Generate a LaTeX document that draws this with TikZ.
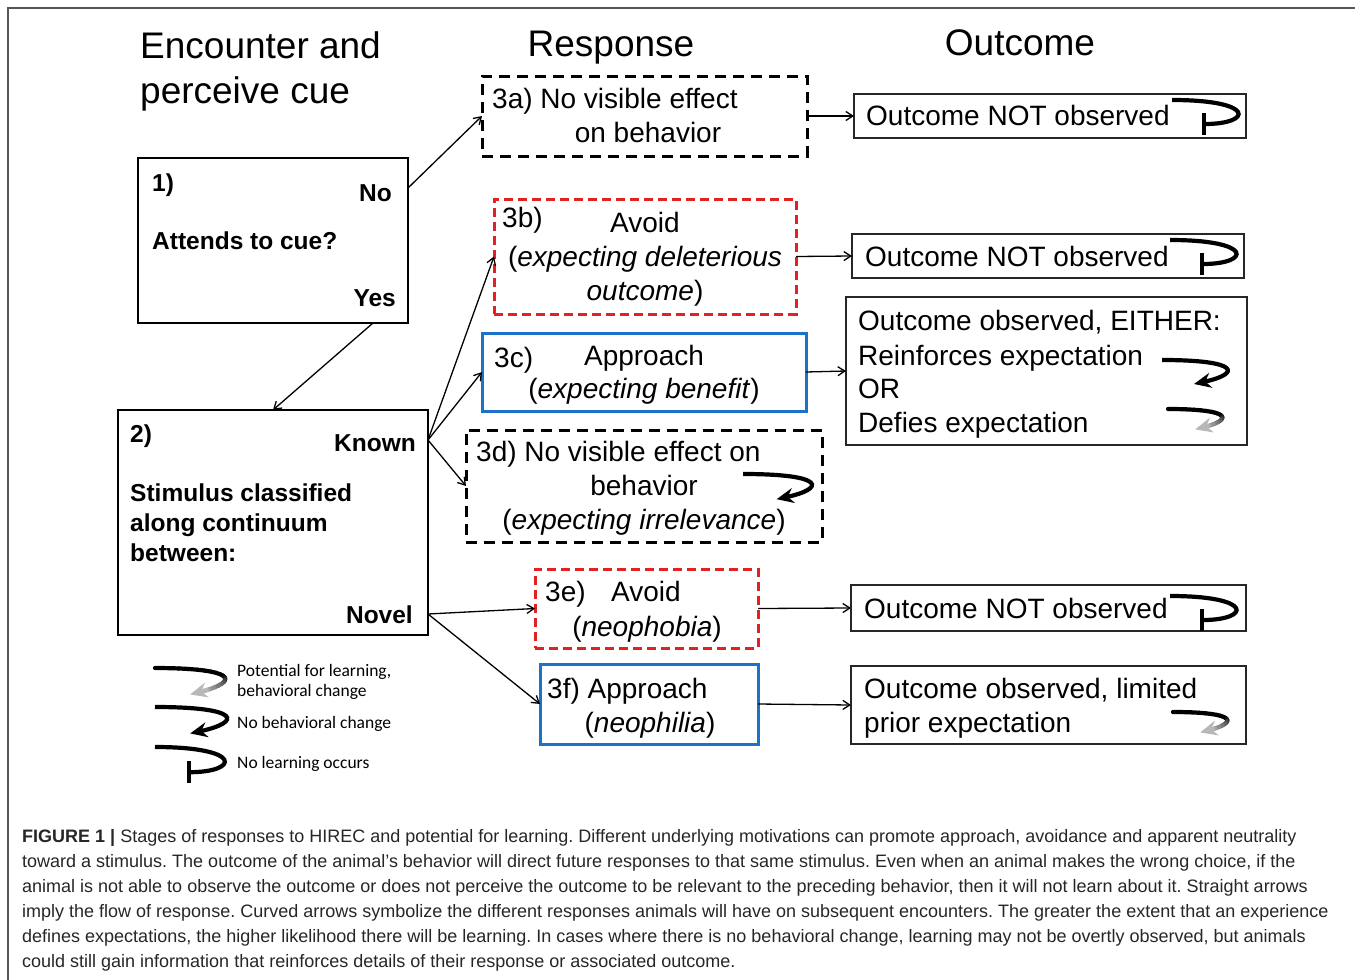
\documentclass[tikz,border=0pt]{standalone}
\usepackage{fontspec}
\setmainfont{Liberation Sans}
\newfontfamily\legendfont{Carlito}
\usetikzlibrary{arrows.meta, positioning, calc}
\definecolor{avoidred}{RGB}{226,34,34}
\definecolor{approachblue}{RGB}{28,114,200}
\definecolor{framegray}{RGB}{85,85,85}
\tikzset{
  declare function={cbx(\t)=3*(1-\t)*(1-\t)*\t*80+3*(1-\t)*\t*\t*78+\t*\t*\t*32;
                    cby(\t)=3*(1-\t)*\t*\t*14+\t*\t*\t*24;},
  stagebox/.style={rectangle, draw=black, line width=1.4pt, inner sep=0pt, outer sep=0pt},
  neutralbox/.style={rectangle, draw=black, line width=3pt, dash pattern=on 11pt off 7pt,
              inner sep=0pt, outer sep=0pt},
  avoidbox/.style={rectangle, draw=avoidred, line width=3pt, dash pattern=on 9pt off 5pt,
              inner sep=0pt, outer sep=0pt},
  approachbox/.style={rectangle, draw=approachblue, line width=3pt, inner sep=0pt, outer sep=0pt},
  outbox/.style={rectangle, draw=black!85, line width=1.2pt, inner sep=0pt, outer sep=0pt},
  head/.style={font=\fontsize{37}{44}\selectfont, inner sep=0pt},
  txt/.style={font=\fontsize{28}{34}\selectfont, inner sep=0pt},
  btxt/.style={font=\fontsize{24.5}{30}\selectfont\bfseries, inner sep=0pt},
  legtxt/.style={font=\legendfont\fontsize{17.5}{20}\selectfont, inner sep=0pt},
  flow/.style={-{Straight Barb[length=7pt,width=9pt]}, line width=1.3pt},
  symline/.style={line width=4.2pt},
  nolearn/.pic={
    \draw[symline, -{Bar[width=22pt]}] (0,0) .. controls (85,0) and (80,24) .. (30,24);
  },
  nochange/.pic={
    \draw[symline, -{Stealth[length=17pt,width=15pt]}] (0,0) .. controls (80,0) and (78,14) .. (32,24);
  },
  potential/.pic={
    \foreach \i in {0,...,17}{
      \pgfmathsetmacro\ta{\i/20}
      \pgfmathsetmacro\tb{(\i+1)/20}
      \pgfmathtruncatemacro\shade{\i<9 ? 100 : 100-(\i-9)*8}
      \draw[symline, line cap=round, black!\shade] ({cbx(\ta)},{cby(\ta)}) -- ({cbx(\tb)},{cby(\tb)});
    }
    \draw[symline, black!28, -{Stealth[length=17pt,width=15pt]}] ({cbx(0.86)},{cby(0.86)}) -- ({cbx(1)},{cby(1)});
  },
}

\begin{document}
\begin{tikzpicture}[x=1pt, y=-1pt]
  \useasboundingbox (0,0) rectangle (1355,980);
  \draw[framegray, line width=1.5pt] (8,980) -- (8,8) -- (1355,8);

  % column headings
  \node[head, anchor=base west] (hcue) at (140,58) {Encounter and};
  \node[head, anchor=base west] (hcue2) at (140,103) {perceive cue};
  \node[head, anchor=base] (hresp) at (611,56) {Response};
  \node[head, anchor=base] (hout) at (1020,55) {Outcome};

  % stage 1 and 2
  \node[stagebox, minimum width=270pt, minimum height=165pt] (b1) at (273,240.5) {};
  \node[btxt, anchor=base west] (b1n) at (152,191) {1)};
  \node[btxt, anchor=base east] (b1no) at (392,201) {No};
  \node[btxt, anchor=base west] (b1q) at (152,249) {Attends to cue?};
  \node[btxt, anchor=base east] (b1yes) at (396,306) {Yes};

  \node[stagebox, minimum width=310pt, minimum height=225pt] (b2) at (273,522.5) {};
  \node[btxt, anchor=base west] (b2n) at (130,442) {2)};
  \node[btxt, anchor=base east] (b2known) at (416,451) {Known};
  \node[btxt, anchor=base west] (b2a) at (130,501) {Stimulus classified};
  \node[btxt, anchor=base west] (b2b) at (130,531) {along continuum};
  \node[btxt, anchor=base west] (b2c) at (130,561) {between:};
  \node[btxt, anchor=base east] (b2novel) at (413,623) {Novel};

  % responses
  \node[neutralbox, minimum width=325pt, minimum height=80pt] (r3a) at (644.5,116) {};
  \node[txt, anchor=base west] at (492,108) {3a) No visible effect};
  \node[txt, anchor=base] at (648,142) {on behavior};

  \node[avoidbox, minimum width=302pt, minimum height=115pt] (r3b) at (645,256.5) {};
  \node[txt, anchor=base west] at (502,227) {3b)};
  \node[txt, anchor=base] at (645,232) {Avoid};
  \node[txt, anchor=base] at (645,266) {(\textit{expecting deleterious}};
  \node[txt, anchor=base] at (645,300) {\textit{outcome})};

  \node[approachbox, minimum width=324pt, minimum height=78pt] (r3c) at (644,372) {};
  \node[txt, anchor=base west] at (494,367) {3c)};
  \node[txt, anchor=base] at (644,365) {Approach};
  \node[txt, anchor=base] at (644,398) {(\textit{expecting benefit})};

  \node[neutralbox, minimum width=356pt, minimum height=112pt] (r3d) at (644,486) {};
  \node[txt, anchor=base west] at (476,461) {3d) No visible effect on};
  \node[txt, anchor=base] at (644,495) {behavior};
  \node[txt, anchor=base] at (644,529) {(\textit{expecting irrelevance})};

  \node[avoidbox, minimum width=223pt, minimum height=79pt] (r3e) at (646.5,608.5) {};
  \node[txt, anchor=base west] at (545,601) {3e)};
  \node[txt, anchor=base] at (646,601) {Avoid};
  \node[txt, anchor=base] at (647,636) {(\textit{neophobia})};

  \node[approachbox, minimum width=218pt, minimum height=80pt] (r3f) at (649,704) {};
  \node[txt, anchor=base west] at (547,698) {3f) Approach};
  \node[txt, anchor=base] at (650,732) {(\textit{neophilia})};

  % outcomes
  \node[outbox, minimum width=392pt, minimum height=44pt] (o1) at (1050,116) {};
  \node[txt, anchor=base west] at (866,125) {Outcome NOT observed};
  \node[outbox, minimum width=392pt, minimum height=44pt] (o2) at (1048,256) {};
  \node[txt, anchor=base west] at (865,266) {Outcome NOT observed};
  \node[outbox, minimum width=401pt, minimum height=148pt] (o3) at (1046.5,371) {};
  \node[txt, anchor=base west] at (858,330) {Outcome observed, EITHER:};
  \node[txt, anchor=base west] at (858,365) {Reinforces expectation};
  \node[txt, anchor=base west] at (858,398) {OR};
  \node[txt, anchor=base west] at (858,432) {Defies expectation};
  \node[outbox, minimum width=395pt, minimum height=46pt] (o4) at (1048.5,608) {};
  \node[txt, anchor=base west] at (864,618) {Outcome NOT observed};
  \node[outbox, minimum width=395pt, minimum height=78pt] (o5) at (1048.5,705) {};
  \node[txt, anchor=base west] at (864,698) {Outcome observed, limited};
  \node[txt, anchor=base west] at (864,732) {prior expectation};

  % flow of response
  \draw[flow] ([yshift=-30pt]b1.north east) -- (r3a.west);
  \draw[flow] ([xshift=-35pt]b1.south east) -- (b2.north);
  \foreach \r in {r3b, r3c, r3d}
    \draw[flow] ([yshift=-30pt]b2.north east) -- (\r.west);
  \foreach \r in {r3e, r3f}
    \draw[flow] ([yshift=21pt]b2.south east) -- (\r.west);
  \foreach \r/\o in {r3a/o1, r3b/o2, r3c/o3, r3e/o4, r3f/o5}
    \draw[flow] (\r.east) -- (\o.west);

  % curved arrows
  \pic at (1172,100) {nolearn};
  \pic at (1170,240) {nolearn};
  \pic at (1170,596) {nolearn};
  \pic at (1162,360) {nochange};
  \pic[scale=1.05] at (743,474) {nochange};
  \pic[scale=0.85] at (1168,409) {potential};
  \pic[scale=0.85] at (1173,712) {potential};

  % legend
  \pic[scale=1.1] at (155,668) {potential};
  \pic[scale=1.1] at (155,707) {nochange};
  \pic[scale=1.05] at (155,747) {nolearn};
  \node[legtxt, anchor=base west] at (237,676) {Potential for learning,};
  \node[legtxt, anchor=base west] at (237,696) {behavioral change};
  \node[legtxt, anchor=base west] at (237,728) {No behavioral change};
  \node[legtxt, anchor=base west] at (237,768) {No learning occurs};

  % caption
  \node[anchor=north west, inner sep=0pt, align=left, text=black!85,
        font=\fontsize{18}{25}\selectfont\frenchspacing] (caption) at (22,829)
    {\textbf{FIGURE 1 |} Stages of responses to HIREC and potential for learning. Different underlying motivations can promote approach, avoidance and apparent neutrality\\
     toward a stimulus. The outcome of the animal’s behavior will direct future responses to that same stimulus. Even when an animal makes the wrong choice, if the\\
     animal is not able to observe the outcome or does not perceive the outcome to be relevant to the preceding behavior, then it will not learn about it. Straight arrows\\
     imply the flow of response. Curved arrows symbolize the different responses animals will have on subsequent encounters. The greater the extent that an experience\\
     defines expectations, the higher likelihood there will be learning. In cases where there is no behavioral change, learning may not be overtly observed, but animals\\
     could still gain information that reinforces details of their response or associated outcome.};
\end{tikzpicture}
\end{document}
